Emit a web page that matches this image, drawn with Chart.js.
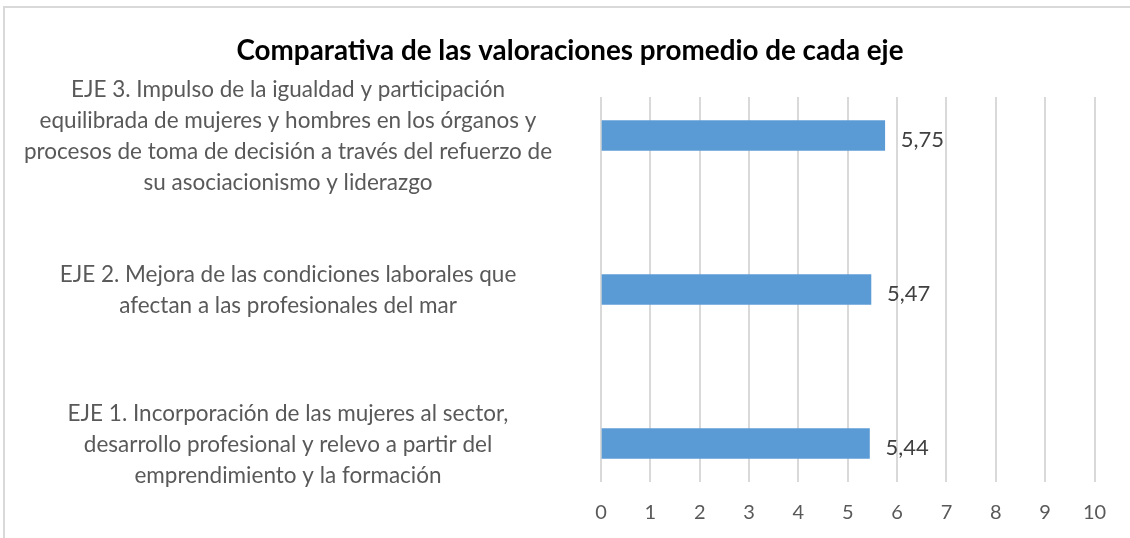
<!DOCTYPE html>
<html>
<head>
<meta charset="utf-8">
<script src="https://cdn.jsdelivr.net/npm/chart.js@4/dist/chart.umd.min.js"></script>
<style>
  html, body { margin: 0; padding: 0; background: #ffffff; }
  canvas { display: block; }
</style>
</head>
<body>
<canvas id="c" width="1130" height="538"></canvas>
<script>
// ---- data (bottom to top, as in the picture) ----
const chartTitle = 'Comparativa de las valoraciones promedio de cada eje';
const categories = [
  ['EJE 1. Incorporación de las mujeres al sector,', 'desarrollo profesional y relevo a partir del', 'emprendimiento y la formación'],
  ['EJE 2. Mejora de las condiciones laborales que', 'afectan a las profesionales del mar'],
  ['EJE 3. Impulso de la igualdad y participación', 'equilibrada de mujeres y hombres en los órganos y', 'procesos de toma de decisión a través del refuerzo de', 'su asociacionismo y liderazgo']
];
const values = [5.44, 5.47, 5.75];
const xTicks = [0, 1, 2, 3, 4, 5, 6, 7, 8, 9, 10];

// ---- style / layout ----
const FONT = 'Lato';
const catFontSize = 22.5;
const catFont = catFontSize + 'px ' + FONT;
const plotLeft = 601;
const plotRightGap = 35.5;
const plotBottom = 482;
const labelCenterX = 288;
const padLeft = 10;

const mctx = document.createElement('canvas').getContext('2d');
mctx.font = catFont;
let widest = 0;
categories.forEach(lines => lines.forEach(l => { widest = Math.max(widest, mctx.measureText(l).width); }));
const yTickPad = plotLeft - labelCenterX - widest / 2;

const frame = {
  id: 'frame',
  beforeDraw(chart) {
    const ctx = chart.ctx;
    ctx.save();
    ctx.fillStyle = '#ffffff';
    ctx.fillRect(0, 0, chart.width, chart.height);
    ctx.strokeStyle = '#D9D9D9';
    ctx.lineWidth = 2;
    ctx.beginPath();
    ctx.moveTo(4, chart.height);
    ctx.lineTo(4, 7);
    ctx.lineTo(chart.width, 7);
    ctx.stroke();
    ctx.restore();
  }
};

const valueLabels = {
  id: 'valueLabels',
  afterDatasetsDraw(chart) {
    const ctx = chart.ctx;
    const meta = chart.getDatasetMeta(0);
    ctx.save();
    ctx.font = '22px ' + FONT;
    ctx.fillStyle = '#404040';
    ctx.textAlign = 'left';
    ctx.textBaseline = 'middle';
    meta.data.forEach((el, i) => {
      const txt = values[i].toFixed(2).replace('.', ',');
      ctx.fillText(txt, el.x + 16, el.y + 4);
    });
    ctx.restore();
  }
};

new Chart(document.getElementById('c'), {
  type: 'bar',
  data: {
    datasets: [{
      data: values.map((v, i) => ({ x: v, y: i })),
      backgroundColor: '#5B9BD5',
      borderWidth: 0,
      barThickness: 30
    }]
  },
  options: {
    indexAxis: 'y',
    responsive: false,
    animation: false,
    devicePixelRatio: 1,
    layout: { padding: { left: padLeft, right: 0, top: 0, bottom: 0 } },
    plugins: {
      legend: { display: false },
      tooltip: { enabled: false },
      title: {
        display: true,
        text: chartTitle,
        color: '#000000',
        font: { family: FONT, size: 27.8, weight: 'bold', lineHeight: 1.2 },
        padding: { top: 34.3, bottom: 29.3 }
      }
    },
    scales: {
      x: {
        type: 'linear',
        min: xTicks[0],
        max: xTicks[xTicks.length - 1],
        afterBuildTicks: (s) => { s.ticks = xTicks.map(v => ({ value: v })); },
        afterFit: (s) => { s.height = 538 - plotBottom; s.paddingRight = plotRightGap; },
        grid: { color: '#D9D9D9', lineWidth: 2, drawTicks: false },
        border: { display: false },
        ticks: {
          color: '#595959',
          font: { family: FONT, size: 20, lineHeight: 1.2 },
          padding: 19,
          maxRotation: 0,
          autoSkip: false
        }
      },
      y: {
        type: 'linear',
        min: -0.25,
        max: 2.25,
        offset: false,
        afterBuildTicks: (s) => { s.ticks = categories.map((_, i) => ({ value: i })); },
        afterFit: (s) => {
          s.width = plotLeft - padLeft;
          s.paddingTop = 0;
          s.paddingBottom = 0;
        },
        grid: { display: false, drawTicks: false, offset: false },
        border: { display: false },
        ticks: {
          color: '#595959',
          font: { family: FONT, size: catFontSize, lineHeight: 31 / catFontSize },
          crossAlign: 'center',
          padding: yTickPad,
          labelOffset: 1,
          autoSkip: false,
          callback: (v) => categories[v]
        }
      }
    }
  },
  plugins: [frame, valueLabels]
});
</script>
</body>
</html>
